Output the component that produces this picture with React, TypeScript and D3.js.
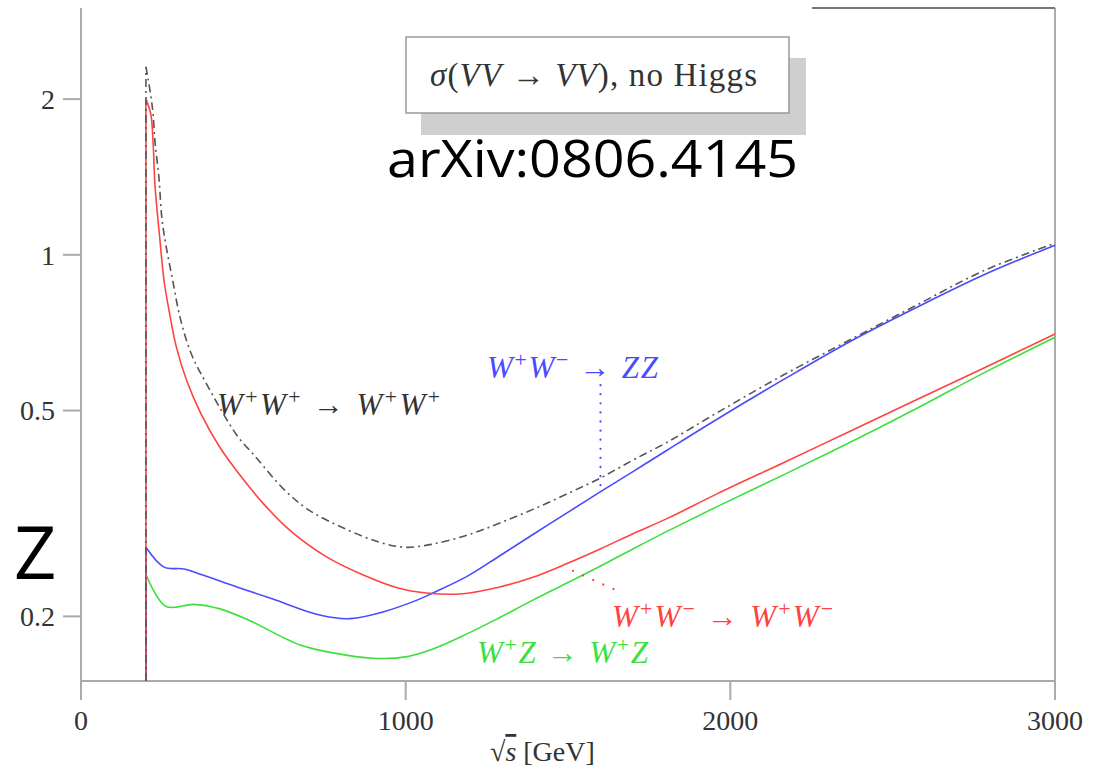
import React from "react";
import * as d3 from "d3";

// sqrt(s) in GeV, sigma ratio; first point = threshold drop
const wpwp: [number, number][] = [
  [200, 0.15], [200, 2.31], [215, 2.03], [222, 1.87], [228, 1.65], [240, 1.41],
  [249, 1.18], [262, 1.04], [283, 0.889], [305, 0.757], [339, 0.645], [382, 0.57],
  [480, 0.448], [536, 0.408], [625, 0.352], [702, 0.321], [810, 0.296], [921, 0.278],
  [1000, 0.272], [1084, 0.276], [1189, 0.287], [1290, 0.303], [1392, 0.322],
  [1497, 0.345], [1599, 0.37], [1700, 0.401], [1805, 0.434], [1959, 0.495],
  [2162, 0.585], [2369, 0.685], [2575, 0.8], [2778, 0.93], [3000, 1.053]
];
const wpwm: [number, number][] = [
  [200, 0.15], [200, 2.0], [215, 1.87], [222, 1.65], [228, 1.36], [243, 1.07],
  [256, 0.889], [271, 0.782], [293, 0.666], [326, 0.57], [370, 0.492], [425, 0.427],
  [480, 0.382], [570, 0.326], [647, 0.292], [755, 0.261], [866, 0.241], [976, 0.227],
  [1063, 0.222], [1167, 0.221], [1290, 0.228], [1392, 0.238], [1497, 0.253],
  [1599, 0.27], [1700, 0.289], [1805, 0.309], [1959, 0.345], [2162, 0.396],
  [2369, 0.456], [2575, 0.525], [2778, 0.603], [3000, 0.703]
];
const wwzz: [number, number][] = [
  [200, 0.15], [200, 0.272], [256, 0.249], [317, 0.247], [370, 0.241], [480, 0.228],
  [591, 0.216], [702, 0.204], [776, 0.199], [830, 0.198], [930, 0.204], [1035, 0.215],
  [1084, 0.222], [1189, 0.239], [1290, 0.262], [1392, 0.288], [1497, 0.317],
  [1599, 0.348], [1700, 0.381], [1805, 0.419], [1959, 0.481], [2162, 0.573],
  [2369, 0.68], [2575, 0.792], [2778, 0.913], [3000, 1.044]
];
const wzwz: [number, number][] = [
  [200, 0.15], [200, 0.241], [262, 0.209], [348, 0.211], [425, 0.207], [514, 0.197],
  [675, 0.176], [776, 0.17], [900, 0.166], [1000, 0.167], [1084, 0.173], [1189, 0.185],
  [1290, 0.199], [1392, 0.215], [1497, 0.232], [1599, 0.25], [1700, 0.27],
  [1805, 0.292], [1959, 0.326], [2162, 0.375], [2369, 0.434], [2575, 0.505],
  [2778, 0.59], [3000, 0.693]
];
const blueLeader: [number, number][] = [[1600, 0.56], [1600, 0.35]];
const redLeader: [number, number][] = [[1515, 0.245], [1666, 0.222]];

const xTicks = [0, 1000, 2000, 3000];
const yTicks = [0.2, 0.5, 1, 2];
const yTickLabels = ["0.2", "0.5", "1", "2"];

const RED = "#ff4242";
const BLUE = "#4a4aff";
const GREEN = "#3ce03c";
const SERIF = "'Liberation Serif', 'DejaVu Serif', serif";
const SANS = "'Open Sans', 'Noto Sans', 'Liberation Sans', sans-serif";

type Part = [string, boolean?, boolean?]; // text, italic, superscript

const Formula = ({ x, y, parts, fill, len, size = 31 }: { x: number; y: number; parts: Part[]; fill: string; len: number; size?: number }) => {
  let raised = false;
  return (
    <text x={x} y={y} fill={fill} fontFamily={SERIF} fontSize={size} textLength={len} lengthAdjust="spacing">
      {parts.map(([t, it, sup], i) => {
        let dy = 0;
        if (sup && !raised) { dy = -size * 0.34; raised = true; }
        else if (!sup && raised) { dy = size * 0.34; raised = false; }
        return (
          <tspan key={i} dy={dy} fontStyle={it ? "italic" : "normal"} fontSize={sup ? size * 0.7 : size}>
            {t}
          </tspan>
        );
      })}
    </text>
  );
};

export default function App() {
  const width = 1097;
  const height = 768;
  const x = d3.scaleLinear().domain([0, 3000]).range([81, 1055]);
  const y = d3.scaleLog().domain([0.15, 3]).range([681, 8]);
  const smooth = d3
    .line<[number, number]>()
    .x((d) => x(d[0]))
    .y((d) => y(d[1]))
    .curve(d3.curveCatmullRom.alpha(0.5));
  const straight = d3.line<[number, number]>().x((d) => x(d[0])).y((d) => y(d[1]));
  // vertical rise at threshold, then the smooth curve
  const curve = (d: [number, number][]) => (straight(d.slice(0, 2)) || "") + (smooth(d.slice(1)) || "");
  const axisColor = "#aaa";
  const [x0, x1] = x.range();
  const [yb, yt] = y.range();

  return (
    <svg width={width} height={height} style={{ position: "absolute", left: 0, top: 0 }}>
      <rect x={0} y={0} width={width} height={height} fill="white" />
      {/* frame */}
      <line x1={x0} y1={yt} x2={x0} y2={yb + 19} stroke={axisColor} strokeWidth={2} />
      <line x1={x0} y1={yb} x2={x1} y2={yb} stroke={axisColor} strokeWidth={2} />
      <line x1={x1} y1={yt} x2={x1} y2={yb} stroke={axisColor} strokeWidth={2} />
      <line x1={812} y1={yt} x2={x1} y2={yt} stroke="#777" strokeWidth={2} />
      {xTicks.map((t) => (
        <g key={t}>
          <line x1={x(t)} y1={yb} x2={x(t)} y2={yb + 19} stroke={axisColor} strokeWidth={2} />
          <text x={x(t)} y={730} textAnchor="middle" fontFamily={SERIF} fontSize={28} fill="#333">
            {t}
          </text>
        </g>
      ))}
      {yTicks.map((t, i) => (
        <g key={t}>
          <line x1={x0 - 18} y1={y(t)} x2={x0} y2={y(t)} stroke={axisColor} strokeWidth={2} />
          <text x={55} y={y(t)} dy="0.35em" textAnchor="end" fontFamily={SERIF} fontSize={28} fill="#333">
            {yTickLabels[i]}
          </text>
        </g>
      ))}
      <text x={490} y={761} fontFamily={SERIF} fontSize={28} fill="#333">
        <tspan>√</tspan>
        <tspan fontStyle="italic" textDecoration="overline">s</tspan>
        <tspan> [GeV]</tspan>
      </text>

      {/* curves */}
      <path d={curve(wzwz)} fill="none" stroke={GREEN} strokeWidth={1.6} />
      <path d={curve(wwzz)} fill="none" stroke={BLUE} strokeWidth={1.6} />
      <path d={curve(wpwm)} fill="none" stroke={RED} strokeWidth={1.6} />
      <path d={curve(wpwp)} fill="none" stroke="#555" strokeWidth={1.6} strokeDasharray="8,4,2,4" />

      {/* leaders */}
      <path d={straight(blueLeader) || ""} stroke={BLUE} strokeWidth={2.2} strokeDasharray="0.1,9" strokeLinecap="round" />
      <path d={straight(redLeader) || ""} stroke={RED} strokeWidth={2.2} strokeDasharray="0.1,11" strokeLinecap="round" />

      {/* curve labels */}
      <Formula x={217} y={415} len={223} fill="#333" parts={[["W", true], ["+", false, true], ["W", true], ["+", false, true], [" → "], ["W", true], ["+", false, true], ["W", true], ["+", false, true]]} />
      <Formula x={487} y={378} len={171} fill={BLUE} parts={[["W", true], ["+", false, true], ["W", true], ["−", false, true], [" → "], ["ZZ", true]]} />
      <Formula x={612} y={627} len={221} fill={RED} parts={[["W", true], ["+", false, true], ["W", true], ["−", false, true], [" → "], ["W", true], ["+", false, true], ["W", true], ["−", false, true]]} />
      <Formula x={477} y={663} len={171} fill={GREEN} parts={[["W", true], ["+", false, true], ["Z", true], [" → "], ["W", true], ["+", false, true], ["Z", true]]} />

      {/* legend box */}
      <rect x={421} y={58} width={385} height={77} fill="#cfcfcf" />
      <rect x={406} y={37} width={383} height={76} fill="white" stroke="#999" strokeWidth={1.5} />
      <text x={430} y={86} fontFamily={SERIF} fontSize={33} fill="#333" textLength={327} lengthAdjust="spacing">
        <tspan fontStyle="italic">σ</tspan>
        <tspan>(</tspan>
        <tspan fontStyle="italic">VV</tspan>
        <tspan> → </tspan>
        <tspan fontStyle="italic">VV</tspan>
        <tspan>), no Higgs</tspan>
      </text>

      <text x={387} y={177} fontFamily={SANS} fontSize={52} fill="black" textLength={411} lengthAdjust="spacingAndGlyphs">
        arXiv:0806.4145
      </text>
      <text x={14} y={579} fontFamily={SANS} fontSize={74} fill="black">
        Z
      </text>
    </svg>
  );
}
